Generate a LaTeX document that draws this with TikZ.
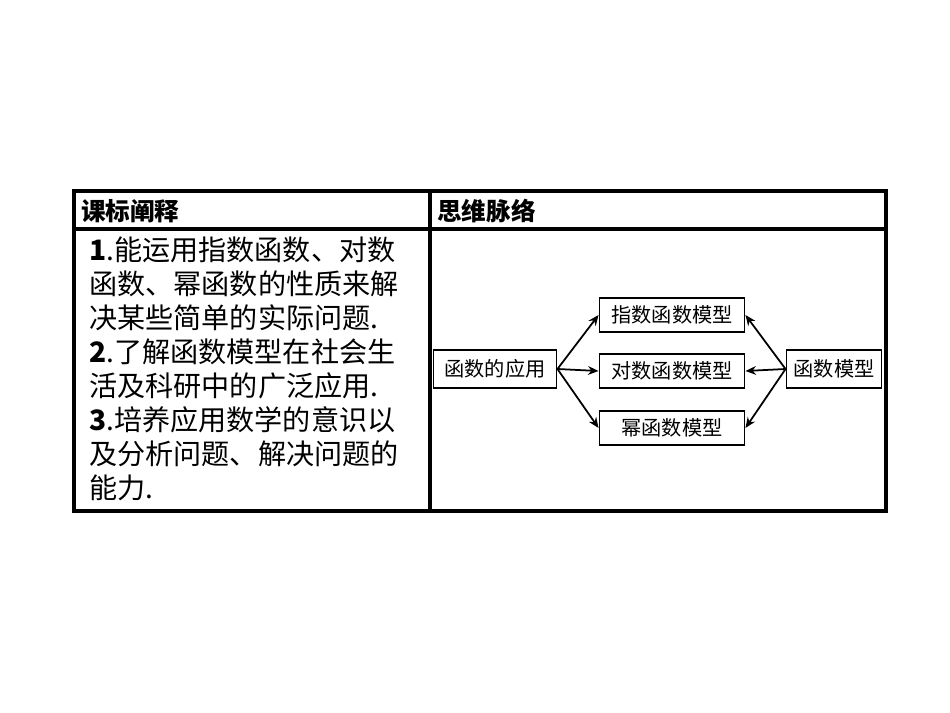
\documentclass[tikz,border=0pt]{standalone}
\usepackage{fontspec}
\setmainfont{Liberation Serif}
\newfontfamily\cjk{Noto Sans CJK SC}
\usetikzlibrary{positioning, arrows.meta}

\begin{document}
\begin{tikzpicture}[x=0.02cm, y=-0.02cm,
    frame/.style={line width=2pt},
    head/.style={anchor=west, font=\cjk\bfseries\fontsize{14}{16}\selectfont},
    modelbox/.style={draw, line width=1.1pt, minimum width=2.9cm, minimum height=0.68cm, font=\cjk\fontsize{11.5}{13}\selectfont, inner sep=1pt},
    arrow/.style={-{Stealth[length=6pt, width=5pt]}, line width=1pt}
]
\useasboundingbox (0,0) rectangle (950,713);

%%%%%%%%%%%%%%%%%%%%%%%%%%%%%%%%%%%%%%%%%%%%%%%%%%%%%%%%%%%%%%%%%%%
% Table frame
%%%%%%%%%%%%%%%%%%%%%%%%%%%%%%%%%%%%%%%%%%%%%%%%%%%%%%%%%%%%%%%%%%%
\draw[frame] (74,191) rectangle (886,511);
\draw[frame] (74,229) -- (886,229);
\draw[frame] (430,191) -- (430,511);

% Headers
\node[head] (goal_head) at (75,211) {课标阐释};
\node[head] (map_head) at (431,211) {思维脉络};

% Goals text
\node[anchor=north west, align=left, inner sep=0pt,
      font=\cjk\fontsize{16}{19.4}\selectfont] (goals) at (89,236)
    {\textbf{1}.能运用指数函数、对数\\
     函数、幂函数的性质来解\\
     决某些简单的实际问题.\\
     \textbf{2}.了解函数模型在社会生\\
     活及科研中的广泛应用.\\
     \textbf{3}.培养应用数学的意识以\\
     及分析问题、解决问题的\\
     能力.};

%%%%%%%%%%%%%%%%%%%%%%%%%%%%%%%%%%%%%%%%%%%%%%%%%%%%%%%%%%%%%%%%%%%
% Mind map
%%%%%%%%%%%%%%%%%%%%%%%%%%%%%%%%%%%%%%%%%%%%%%%%%%%%%%%%%%%%%%%%%%%
\node[modelbox, minimum width=2.46cm, minimum height=0.76cm] (apply) at (495,369) {函数的应用};
\node[modelbox] (expo) at (672,315) {指数函数模型};
\node[modelbox] (loga) at (672,371) {对数函数模型};
\node[modelbox] (power) at (672,428) {幂函数模型};
\node[modelbox, minimum width=1.9cm, minimum height=0.76cm] (model) at (834,369) {函数模型};

% Connections
\draw[arrow] (apply.east) -- (expo.west);
\draw[arrow] (apply.east) -- (loga.west);
\draw[arrow] (apply.east) -- (power.west);
\draw[arrow] (model.west) -- (expo.east);
\draw[arrow] (model.west) -- (loga.east);
\draw[arrow] (model.west) -- (power.east);

\end{tikzpicture}
\end{document}
